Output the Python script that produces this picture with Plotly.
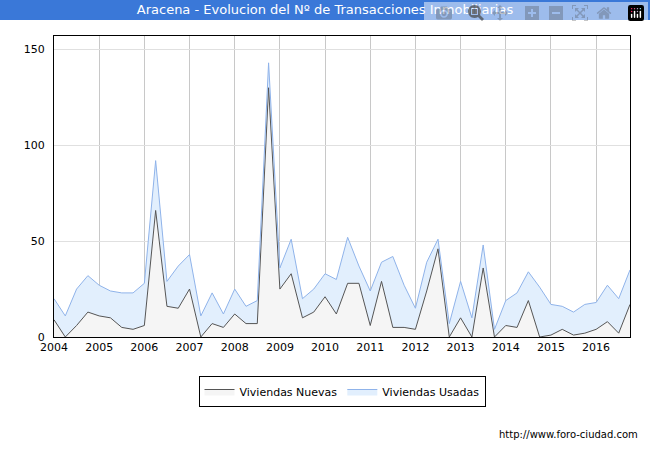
import plotly.graph_objects as go

years = [2004 + i * 0.25 for i in range(52)]
nuevas = [9, 0, 6, 13, 11, 10, 5, 4, 6, 66, 16, 15, 25, 0, 7, 5, 12, 7, 7, 130,
          25, 33, 10, 13, 21, 12, 28, 28, 6, 29, 5, 5, 4, 24, 46, 0,
          10, 0, 36, 0, 6, 5, 19, 0, 1, 4, 1, 2, 4, 8, 2, 17]
total = [20, 11, 25, 32, 27, 24, 23, 23, 28, 92, 29, 37, 43, 11, 23, 12, 25, 16, 19, 143,
         36, 51, 20, 25, 33, 30, 52, 37, 24, 39, 42, 27, 15, 39, 51, 7,
         29, 10, 48, 4, 19, 23, 34, 26, 17, 16, 13, 17, 18, 27, 20, 35]
usadas = [t - n for t, n in zip(total, nuevas)]

fig = go.Figure()
fig.add_trace(go.Scatter(x=years, y=nuevas, name="Viviendas Nuevas", stackgroup="a",
                         mode="lines", line=dict(color="#555555", width=1),
                         fillcolor="#f5f5f5"))
fig.add_trace(go.Scatter(x=years, y=usadas, name="Viviendas Usadas", stackgroup="a",
                         mode="lines", line=dict(color="#8fb3ea", width=1),
                         fillcolor="#e2effd"))
H = 301.0
W = 576.0
fig.update_layout(
    width=650, height=450, paper_bgcolor="#ffffff", plot_bgcolor="#ffffff",
    margin=dict(l=54, r=20, t=36, b=113),
    font=dict(family="DejaVu Sans", size=11, color="#000"),
    title=dict(text="Aracena - Evolucion del Nº de Transacciones Inmobiliarias",
               x=0.5, y=0.99, xanchor="center", yanchor="top",
               font=dict(color="#ffffff", size=13)),
    showlegend=True,
    legend=dict(orientation="h", x=0.5, xanchor="center", y=-39 / H, yanchor="top",
                bordercolor="#000", borderwidth=1, traceorder="normal",
                font=dict(size=11)),
    xaxis=dict(range=[2004, 2016.75], tickvals=list(range(2004, 2017)), showgrid=True,
               gridcolor="#c8c8c8", showline=True, linecolor="#000", mirror=True,
               ticks="", zeroline=False),
    yaxis=dict(range=[0, 157], tickvals=[0, 50, 100, 150], showgrid=True,
               gridcolor="#e0e0e0", showline=True, linecolor="#000", mirror=True,
               ticks="outside", ticklen=6, tickcolor="rgba(0,0,0,0)", zeroline=False),
    shapes=[dict(type="rect", xref="paper", yref="paper", x0=-54 / W, x1=1 + 20 / W,
                 y0=1 + 16 / H, y1=1 + 36 / H,
                 fillcolor="#3a78d8", line=dict(width=0), layer="below")],
    annotations=[dict(text="http://www.foro-ciudad.com", xref="paper", yref="paper",
                      x=1 + 10 / W, y=-90 / H, xanchor="right", yanchor="top",
                      showarrow=False, font=dict(size=10))],
)
fig.write_html("out.html", post_script="document.body.style.margin='0';")
